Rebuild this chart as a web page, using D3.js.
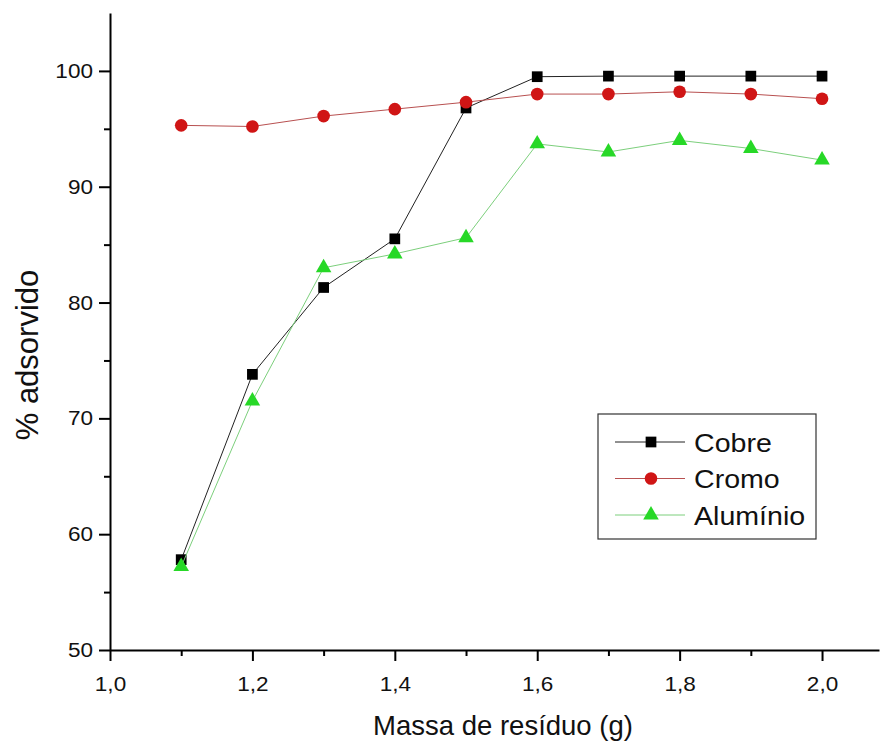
<html>
<head>
<script src="https://d3js.org/d3.v7.min.js"></script>
<style>
body { margin: 0; background: white; }
text { font-family: Arial, 'Liberation Sans', sans-serif; }
</style>
</head>
<body>
<svg width="883" height="745"></svg>
<script>
// data
const massa = [1.1, 1.2, 1.3, 1.4, 1.5, 1.6, 1.7, 1.8, 1.9, 2.0];
const cobre = [57.8, 73.8, 81.3, 85.5, 96.8, 99.5, 99.55, 99.55, 99.55, 99.55];
const cromo = [95.3, 95.2, 96.1, 96.7, 97.3, 98.0, 98.0, 98.2, 98.0, 97.6];
const aluminio = [57.2, 71.5, 83.0, 84.2, 85.6, 93.7, 93.0, 94.0, 93.3, 92.3];
const seriesNames = ["Cobre", "Cromo", "Alumínio"];
const xTicks = [1.0, 1.2, 1.4, 1.6, 1.8, 2.0];
const xMinor = [1.1, 1.3, 1.5, 1.7, 1.9];
const yTicks = [50, 60, 70, 80, 90, 100];
const yMinor = [55, 65, 75, 85, 95];

const svg = d3.select("svg");
svg.append("rect").attr("width", 883).attr("height", 745).attr("fill", "white");

const x = d3.scaleLinear().domain([1.0, 2.08]).range([110, 879]);
const y = d3.scaleLinear().domain([50, 105]).range([650, 13]);

const fmt = d => d3.format(".1f")(d).replace(".", ",");

// the text in the original is a bit wider than plain Arial
function stretch(sel, k) {
  sel.each(function() {
    const w = this.getComputedTextLength();
    d3.select(this).attr("textLength", w * k).attr("lengthAdjust", "spacingAndGlyphs");
  });
}

// minor ticks
svg.append("g").attr("transform", "translate(0,650)")
  .call(d3.axisBottom(x).tickValues(xMinor).tickSize(6).tickSizeOuter(0).tickFormat(""))
  .call(g => g.select(".domain").remove())
  .call(g => g.selectAll("line").attr("stroke-width", 2));
svg.append("g").attr("transform", "translate(110,0)")
  .call(d3.axisLeft(y).tickValues(yMinor).tickSize(6).tickSizeOuter(0).tickFormat(""))
  .call(g => g.select(".domain").remove())
  .call(g => g.selectAll("line").attr("stroke-width", 2));

// major axes
svg.append("g").attr("transform", "translate(0,650)")
  .call(d3.axisBottom(x).tickValues(xTicks).tickSize(11).tickSizeOuter(0).tickFormat(fmt))
  .call(g => g.select(".domain").attr("stroke-width", 2))
  .call(g => g.selectAll("line").attr("stroke-width", 2))
  .call(g => g.selectAll("text").attr("font-size", 20.5).attr("fill", "#111")
    .attr("y", 41).attr("dy", null).call(stretch, 1.1));
svg.append("g").attr("transform", "translate(110,0)")
  .call(d3.axisLeft(y).tickValues(yTicks).tickSize(11).tickSizeOuter(0).tickPadding(6))
  .call(g => g.select(".domain").attr("stroke-width", 2))
  .call(g => g.selectAll("line").attr("stroke-width", 2))
  .call(g => g.selectAll("text").attr("font-size", 20.5).attr("fill", "#111").call(stretch, 1.1));

// axis titles
svg.append("text")
  .attr("x", 503).attr("y", 735)
  .attr("text-anchor", "middle")
  .attr("font-size", 27.5)
  .attr("fill", "#111")
  .text("Massa de resíduo (g)");
svg.append("text")
  .attr("transform", "translate(38,355) rotate(-90)")
  .attr("text-anchor", "middle")
  .attr("font-size", 31)
  .attr("fill", "#111")
  .text("% adsorvido");

const series = [
  { name: seriesNames[0], values: cobre, line: "#222", fill: "#000", shape: d3.symbolSquare, size: 115 },
  { name: seriesNames[1], values: cromo, line: "#b85050", fill: "#d01515", shape: d3.symbolCircle, size: 125 },
  { name: seriesNames[2], values: aluminio, line: "#7ccf7c", fill: "#27d827", shape: d3.symbolTriangle, size: 105 }
];

const line = d3.line().x((d, i) => x(massa[i])).y(d => y(d));

series.forEach(s => {
  svg.append("path")
    .attr("d", line(s.values))
    .attr("fill", "none")
    .attr("stroke", s.line)
    .attr("stroke-width", 1);
  svg.append("g").selectAll("path")
    .data(s.values)
    .join("path")
    .attr("transform", (d, i) => `translate(${x(massa[i])},${y(d)})`)
    .attr("d", d3.symbol().type(s.shape).size(s.size))
    .attr("fill", s.fill);
});

// legend
const leg = svg.append("g");
leg.append("rect")
  .attr("x", 598).attr("y", 414).attr("width", 218).attr("height", 125)
  .attr("fill", "white").attr("stroke", "#333").attr("stroke-width", 1.2);
series.forEach((s, i) => {
  const cy = 442 + i * 36.5;
  leg.append("line")
    .attr("x1", 615).attr("x2", 685).attr("y1", cy).attr("y2", cy)
    .attr("stroke", s.line).attr("stroke-width", 1);
  leg.append("path")
    .attr("transform", `translate(651,${cy})`)
    .attr("d", d3.symbol().type(s.shape).size(s.size))
    .attr("fill", s.fill);
  leg.append("text")
    .attr("x", 694).attr("y", cy + 9.5)
    .attr("font-size", 25.5)
    .attr("fill", "#111")
    .text(s.name)
    .call(stretch, 1.12);
});
</script>
</body>
</html>
